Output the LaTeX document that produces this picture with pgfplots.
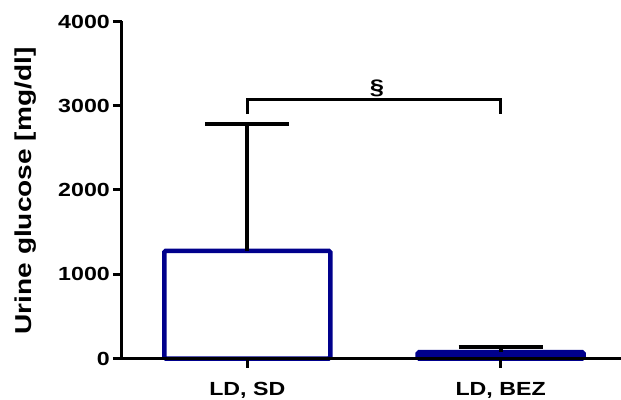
\documentclass[border=0pt]{standalone}
\usepackage{fontspec}
\setmainfont{Liberation Sans}[FakeStretch=1.22]
\usepackage{pgfplots}
\pgfplotsset{compat=1.18}
\definecolor{barnavy}{RGB}{0,0,140}
\begin{document}
\begin{tikzpicture}
\begin{axis}[
  scale only axis,
  width=499pt, height=337pt,
  xmin=-0.4945, xmax=1.475,
  ymin=0, ymax=4000,
  axis x line=bottom, axis y line=left,
  axis line style={-, line width=3pt, black},
  xtick={0,1}, xticklabels={{LD, SD},{LD, BEZ}},
  ytick={0,1000,2000,3000,4000},
  tick align=outside, major tick length=9pt,
  tick style={black, line width=3pt},
  /pgf/number format/assume math mode=true,
  /pgf/number format/set thousands separator={},
  ticklabel style={font=\fontsize{19}{19}\selectfont\bfseries},
  yticklabel style={anchor=east, inner sep=0pt, xshift=-3pt},
  xticklabel style={anchor=base, inner sep=0pt, yshift=-27.5pt},
  ylabel={Urine glucose [mg/dl]},
  ylabel style={font=\fontsize{23}{23}\selectfont\bfseries, at={(axis description cs:-0.1924,0.497)}, anchor=center},
  axis on top,
  clip=false,
]
\addplot[ybar, bar width=166pt, bar shift=0pt, draw=barnavy, fill=white, line width=4.5pt, rounded corners=1.5pt,
  error bars/.cd, y dir=plus, y explicit, error mark=|,
  error bar style={line width=4pt, black},
  error mark options={line width=4pt, black, mark size=42pt}]
  coordinates {(0,1278) +- (0,1502)};
\addplot[ybar, bar width=166pt, bar shift=0pt, draw=barnavy, fill=barnavy, line width=4.5pt, rounded corners=1.5pt,
  error bars/.cd, y dir=plus, y explicit, error mark=|,
  error bar style={line width=4pt, black},
  error mark options={line width=4pt, black, mark size=42pt}]
  coordinates {(1,75) +- (0,67)};
\addplot[black, line width=3pt, mark=none] coordinates {(0,2900) (0,3080) (1,3080) (1,2900)};
\node[anchor=base, inner sep=0pt, yshift=5pt, font=\fontsize{21}{21}\selectfont\bfseries] at (axis cs:0.512,3080) {\S};
\end{axis}
\pgfresetboundingbox
\path[use as bounding box] (-122pt,-40.5pt) rectangle (499pt,358.5pt);
\end{tikzpicture}
\end{document}
